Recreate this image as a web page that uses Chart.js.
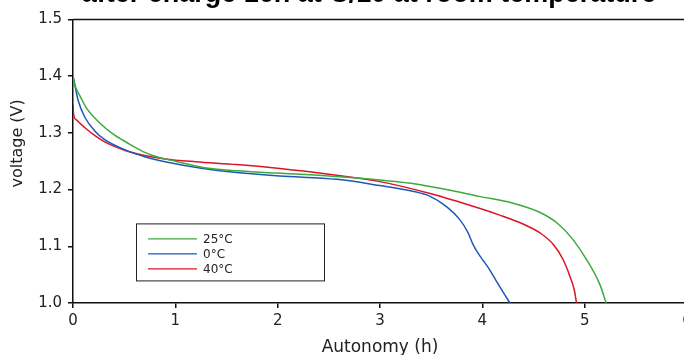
<!DOCTYPE html>
<html><head><meta charset="utf-8">
<script src="https://cdn.jsdelivr.net/npm/chart.js@4/dist/chart.umd.min.js"></script>
<style>
html,body{margin:0;padding:0;background:#fff;}
#wrap{position:relative;width:684px;height:355px;overflow:hidden;background:#fff;}
#c{position:absolute;left:0;top:-24px;}
</style></head><body>
<div id="wrap"><canvas id="c" width="738" height="382"></canvas></div>
<script>
const chartTitle = 'after charge 16h at C/10 at room temperature';
const xTitle = 'Autonomy (h)';
const yTitle = 'voltage (V)';
const seriesLabels = ['25°C', '0°C', '40°C'];
const seriesColors = ['#3caa3c', '#1c5ab4', '#dc1428'];

const t25 = [0, 0.012, 0.036, 0.068, 0.134, 0.264, 0.39, 0.524, 0.684, 0.85, 1.0, 1.27, 1.6, 2.0, 2.5, 3.0, 3.3, 3.65, 3.97, 4.3, 4.56, 4.73, 4.88, 5.02, 5.15, 5.21];
const v25 = [1.400, 1.388, 1.376, 1.365, 1.343, 1.317, 1.298, 1.283, 1.267, 1.256, 1.250, 1.239, 1.233, 1.229, 1.224, 1.217, 1.211, 1.200, 1.188, 1.176, 1.160, 1.141, 1.113, 1.076, 1.032, 1.000];

const t0 = [0, 0.01, 0.02, 0.049, 0.117, 0.215, 0.31, 0.51, 0.70, 0.90, 1.27, 1.6, 2.02, 2.58, 3.0, 3.32, 3.49, 3.65, 3.78, 3.86, 3.91, 3.95, 4.0, 4.06, 4.12, 4.20, 4.27];
const v0 = [1.400, 1.392, 1.383, 1.358, 1.327, 1.303, 1.288, 1.270, 1.258, 1.249, 1.237, 1.230, 1.224, 1.218, 1.207, 1.197, 1.188, 1.170, 1.147, 1.124, 1.103, 1.090, 1.077, 1.062, 1.044, 1.020, 1.000];

const t40 = [0, 0.004, 0.01, 0.039, 0.117, 0.215, 0.31, 0.51, 0.70, 0.90, 1.2, 1.6, 2.02, 2.5, 3.0, 3.49, 3.97, 4.17, 4.365, 4.46, 4.56, 4.69, 4.785, 4.85, 4.90, 4.92];
const v40 = [1.350, 1.336, 1.329, 1.322, 1.309, 1.295, 1.284, 1.269, 1.260, 1.254, 1.249, 1.244, 1.237, 1.227, 1.214, 1.193, 1.167, 1.155, 1.142, 1.134, 1.124, 1.104, 1.078, 1.050, 1.022, 1.000];

const xTicks = [0, 1, 2, 3, 4, 5, 6];
const yTicks = [1.0, 1.1, 1.2, 1.3, 1.4, 1.5];

const pts = (ts, vs) => ts.map((t, i) => ({x: t, y: vs[i]}));
const seriesData = [pts(t25, v25), pts(t0, v0), pts(t40, v40)];

const frame = {
  id: 'frame',
  afterDatasetsDraw(chart) {
    const {ctx, chartArea: a} = chart;
    ctx.save();
    ctx.strokeStyle = '#111';
    ctx.lineWidth = 1.5;
    ctx.beginPath();
    ctx.moveTo(a.left, a.top);
    ctx.lineTo(a.right, a.top);
    ctx.lineTo(a.right, a.bottom);
    ctx.stroke();
    ctx.restore();
  }
};

const boxLegend = {
  id: 'boxLegend',
  afterDatasetsDraw(chart) {
    const {ctx, chartArea: a} = chart;
    const x0 = a.left + 63, y0 = a.top + 204, w = 188, h = 57;
    ctx.save();
    ctx.fillStyle = '#fff';
    ctx.fillRect(x0, y0, w, h);
    ctx.strokeStyle = '#222';
    ctx.lineWidth = 1;
    ctx.strokeRect(x0 + 0.5, y0 + 0.5, w, h);
    ctx.font = '12px "DejaVu Sans"';
    ctx.textBaseline = 'middle';
    chart.data.datasets.forEach((ds, i) => {
      const y = y0 + 15.5 + i * 15;
      ctx.strokeStyle = ds.borderColor;
      ctx.lineWidth = 1.3;
      ctx.beginPath();
      ctx.moveTo(x0 + 12, y);
      ctx.lineTo(x0 + 61, y);
      ctx.stroke();
      ctx.fillStyle = '#222';
      ctx.fillText(ds.label, x0 + 67, y + 0.5);
    });
    ctx.restore();
  }
};

new Chart(document.getElementById('c'), {
  type: 'line',
  data: {
    datasets: seriesLabels.map((lab, i) => ({
      label: lab,
      data: seriesData[i],
      borderColor: seriesColors[i],
      borderWidth: 1.5,
      pointRadius: 0,
      fill: false,
      cubicInterpolationMode: 'monotone'
    }))
  },
  options: {
    responsive: false,
    devicePixelRatio: 1,
    animation: false,
    layout: {padding: 0},
    plugins: {
      legend: {display: false},
      tooltip: {enabled: false},
      title: {
        display: true,
        text: chartTitle,
        color: '#000',
        font: {family: '"Liberation Sans", Arial, sans-serif', size: 27, weight: 'bold'},
        padding: {top: 2, bottom: 9}
      }
    },
    scales: {
      x: {
        type: 'linear',
        min: 0, max: 6,
        afterBuildTicks: s => { s.ticks = xTicks.map(v => ({value: v})); },
        afterFit: s => { s.height = 55; },
        grid: {display: true, drawOnChartArea: false, color: '#111', tickLength: 5, lineWidth: 1.5},
        border: {display: true, color: '#111', width: 1.5},
        ticks: {color: '#222', font: {family: '"DejaVu Sans"', size: 15}, padding: 4, maxRotation: 0,
          callback: v => String(v)},
        title: {display: true, text: xTitle, color: '#222', font: {family: '"DejaVu Sans"', size: 17}, padding: {top: 0, bottom: 0}}
      },
      y: {
        type: 'linear',
        min: 1.0, max: 1.5,
        afterBuildTicks: s => { s.ticks = yTicks.map(v => ({value: v})); },
        afterFit: s => { s.width = 73; },
        grid: {display: true, drawOnChartArea: false, color: '#111', tickLength: 5, lineWidth: 1.5},
        border: {display: true, color: '#111', width: 1.5},
        ticks: {color: '#222', font: {family: '"DejaVu Sans"', size: 15}, padding: 6,
          callback: v => Number(v).toFixed(1)},
        title: {display: true, text: '       ' + yTitle, color: '#222', font: {family: '"DejaVu Sans"', size: 16}, padding: {top: 8, bottom: 0}}
      },
      y2: {
        type: 'linear',
        position: 'right',
        display: true,
        afterFit: s => { s.width = 51; },
        grid: {display: false},
        border: {display: false},
        ticks: {display: false}
      }
    }
  },
  plugins: [frame, boxLegend]
});
</script>
</body></html>
